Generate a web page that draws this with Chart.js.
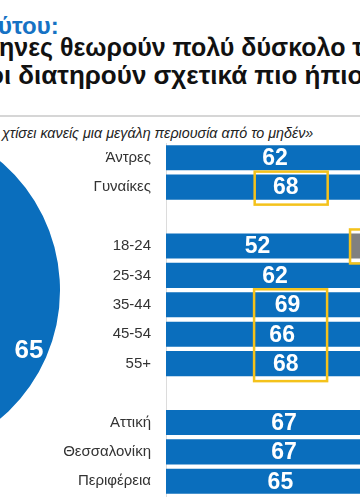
<!DOCTYPE html>
<html><head><meta charset="utf-8">
<script src="https://cdn.jsdelivr.net/npm/chart.js@4.4.0/dist/chart.umd.min.js"></script>
<style>
html,body{margin:0;padding:0;width:360px;height:504px;overflow:hidden;background:#fff;position:relative;font-family:"Liberation Sans",Arial,sans-serif;}
.t{position:absolute;white-space:nowrap;line-height:1;font-weight:bold;}
#l1{left:-2px;top:14px;font-size:24px;color:#1672c4;}
#l2{left:-1px;top:35px;font-size:25px;color:#111;}
#l3{left:-12px;top:62px;font-size:26px;color:#111;}
#sep{position:absolute;left:0;top:115px;width:360px;height:2px;background:#d6d6d6;}
#sub{position:absolute;left:2px;top:126px;font-family:"Liberation Sans Narrow","Liberation Sans",sans-serif;font-style:italic;font-size:14.3px;color:#222;white-space:nowrap;line-height:1;}
#pieWrap{position:absolute;left:-281px;top:118px;width:344px;height:344px;}
#barWrap{position:absolute;left:0;top:119px;width:518px;height:401px;}
</style></head>
<body>
<div class="t" id="l1">ύτου:</div>
<div class="t" id="l2">ηνες θεωρούν πολύ δύσκολο τ</div>
<div class="t" id="l3">οι διατηρούν σχετικά πιο ήπιο</div>
<div id="sep"></div>
<div id="sub">χτίσει κανείς μια μεγάλη περιουσία από το μηδέν»</div>
<div id="pieWrap"><canvas id="pie" width="344" height="344"></canvas></div>
<div id="barWrap"><canvas id="bar" width="518" height="401"></canvas></div>
<script>
// ---- data ----
const pieLabels = ['Δύσκολο', 'Άλλο'];
const pieValues = [65, 35];

const categories = ['Άντρες', 'Γυναίκες', '', '18-24', '25-34', '35-44', '45-54', '55+', '', 'Αττική', 'Θεσσαλονίκη', 'Περιφέρεια'];
const blueValues = [62, 68, null, 52, 62, 69, 66, 68, null, 67, 67, 65];
const grayValues = [38, 32, null, 48, 38, 31, 34, 32, null, 33, 33, 35];
const labelHighlights = [['Γυναίκες', 'Γυναίκες'], ['35-44', '55+']];
const grayHighlights = ['18-24'];

const BLUE = '#0a6ebd', GRAY = '#808080', YELLOW = '#f4c21b';

const pieLabelPlugin = {
  id: 'pieLabel',
  afterDatasetsDraw(chart) {
    const arc = chart.getDatasetMeta(0).data[0];
    const p = arc.getProps(['x', 'y', 'startAngle', 'endAngle', 'outerRadius']);
    const mid = (p.startAngle + p.endAngle) / 2;
    const r = p.outerRadius * 0.89;
    const ctx = chart.ctx;
    ctx.save();
    ctx.fillStyle = '#fff';
    ctx.font = 'bold 26px "Liberation Sans", Arial, sans-serif';
    ctx.textAlign = 'center';
    ctx.textBaseline = 'middle';
    ctx.fillText(String(pieValues[0]), p.x + Math.cos(mid) * r, p.y + Math.sin(mid) * r + 1);
    ctx.restore();
  }
};

new Chart(document.getElementById('pie'), {
  type: 'pie',
  data: { labels: pieLabels, datasets: [{ data: pieValues, backgroundColor: [BLUE, GRAY], borderWidth: 0 }] },
  options: {
    responsive: false, animation: false, rotation: -3.5,
    layout: { padding: 3 },
    plugins: { legend: { display: false }, tooltip: { enabled: false } }
  },
  plugins: [pieLabelPlugin]
});

const barLabelPlugin = {
  id: 'barLabels',
  afterDatasetsDraw(chart) {
    const ctx = chart.ctx;
    const meta = chart.getDatasetMeta(0);
    const gmeta = chart.getDatasetMeta(1);
    ctx.save();
    ctx.fillStyle = '#fff';
    ctx.font = 'bold 23px "Liberation Sans", Arial, sans-serif';
    ctx.textAlign = 'center';
    ctx.textBaseline = 'middle';
    const centers = [];
    meta.data.forEach((bar, i) => {
      const v = blueValues[i];
      if (v == null) { centers.push(null); return; }
      const cx = (bar.x + bar.base) / 2;
      centers.push(cx);
      ctx.fillText(String(v), cx, bar.y + 1);
    });
    ctx.strokeStyle = YELLOW;
    ctx.lineWidth = 2.5;
    labelHighlights.forEach(([a, b]) => {
      const i0 = categories.indexOf(a), i1 = categories.indexOf(b);
      let sum = 0, n = 0;
      for (let i = i0; i <= i1; i++) { sum += centers[i]; n++; }
      const mc = sum / n;
      const top = meta.data[i0].y - meta.data[i0].height / 2 - 3;
      const bot = meta.data[i1].y + meta.data[i1].height / 2 + 5;
      ctx.strokeRect(mc - 31, top, 73, bot - top);
    });
    grayHighlights.forEach(c => {
      const i = categories.indexOf(c);
      const g = gmeta.data[i];
      const top = g.y - g.height / 2 - 4, bot = g.y + g.height / 2 + 5;
      ctx.strokeRect(g.base + 1, top, 40, bot - top);
    });
    ctx.restore();
  }
};

new Chart(document.getElementById('bar'), {
  type: 'bar',
  data: {
    labels: categories,
    datasets: [
      { data: blueValues, backgroundColor: BLUE, borderWidth: 0, barPercentage: 0.85, categoryPercentage: 1 },
      { data: grayValues, backgroundColor: GRAY, borderWidth: 0, barPercentage: 0.85, categoryPercentage: 1 }
    ]
  },
  options: {
    indexAxis: 'y', responsive: false, animation: false,
    layout: { padding: 0 },
    plugins: { legend: { display: false }, tooltip: { enabled: false } },
    scales: {
      x: { stacked: true, min: 0, max: 100, display: false },
      y: {
        stacked: true,
        afterFit(s) { s.width = 166; },
        grid: { display: false, drawTicks: false },
        border: { display: true, color: '#dcdcdc', width: 1 },
        ticks: { padding: 15, color: '#333', font: { family: '"Liberation Sans", Arial, sans-serif', size: 15 } }
      }
    }
  },
  plugins: [barLabelPlugin]
});
</script>
</body></html>
